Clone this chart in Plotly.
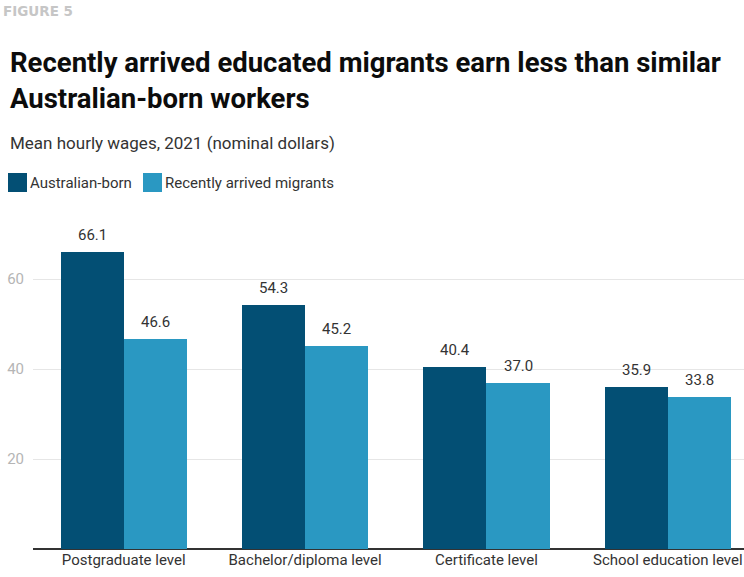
import plotly.graph_objects as go

categories = ["Postgraduate level", "Bachelor/diploma level", "Certificate level", "School education level"]
australian_born = [66.1, 54.3, 40.4, 35.9]
recent_migrants = [46.6, 45.2, 37.0, 33.8]
y_ticks = [20, 40, 60]

series = [
    ("Australian-born", australian_born, "#034f74", -1),
    ("Recently arrived migrants", recent_migrants, "#2a98c2", 1),
]

bar_w = 0.348
positions = list(range(len(categories)))

PLOT_H = 324
BASE = 549
LEFT = 33
PLOT_W = 711


def py(pixel_y):
    return (BASE - pixel_y) / PLOT_H


def px(pixel_x):
    return (pixel_x - LEFT) / PLOT_W


fig = go.Figure()
for name, vals, color, side in series:
    xs = [p + side * bar_w / 2 for p in positions]
    fig.add_trace(go.Bar(
        x=xs, y=vals, width=bar_w, name=name,
        marker=dict(color=color, line=dict(width=0)),
        hoverinfo="y", showlegend=False,
    ))
    for x, v in zip(xs, vals):
        fig.add_annotation(
            x=x, y=v, text=f"{v:.1f}", showarrow=False,
            yanchor="bottom", yshift=6,
            font=dict(family="Roboto", size=15, color="#333333"),
        )

# Legend: colour swatches with their labels in a row
legend_x = [8, 143]
for (name, _, color, _), lx in zip(series, legend_x):
    fig.add_shape(
        type="rect", xref="paper", yref="paper",
        x0=px(lx), x1=px(lx + 19), y0=py(192), y1=py(173),
        fillcolor=color, line=dict(width=0),
    )
    fig.add_annotation(
        xref="paper", yref="paper", x=px(lx + 20), y=py(182.5),
        xanchor="left", yanchor="middle", text=name, showarrow=False,
        font=dict(family="Roboto", size=15, color="#333333"),
    )

fig.update_layout(
    width=744, height=577,
    margin=dict(l=33, r=0, t=225, b=28),
    paper_bgcolor="white", plot_bgcolor="white",
    showlegend=False,
    bargap=0,
    font=dict(family="Roboto"),
)

fig.update_xaxes(
    range=[-0.5, 3.42], tickvals=positions, ticktext=categories,
    showgrid=False, zeroline=False, showline=False, ticks="",
    tickfont=dict(family="Roboto", size=15, color="#333333"),
)
fig.update_yaxes(
    range=[0, 72], tickvals=y_ticks, showgrid=True, gridcolor="#e6e6e6", gridwidth=1,
    zeroline=True, zerolinecolor="#333333", zerolinewidth=2,
    showline=False, ticks="", ticklabelstandoff=8,
    tickfont=dict(family="Roboto", size=15, color="#b5b5b5"),
)

# Header text block
fig.add_annotation(
    xref="paper", yref="paper", x=px(1), y=py(10.5), xanchor="left", yanchor="middle",
    text="<b>FIGURE 5</b>", showarrow=False,
    font=dict(family="DejaVu Sans", size=13.5, color="#c6c6c6"),
)
fig.add_annotation(
    xref="paper", yref="paper", x=px(8), y=py(80), xanchor="left", yanchor="middle",
    text="<b>Recently arrived educated migrants earn less than similar<br>Australian-born workers</b>",
    showarrow=False, align="left",
    font=dict(family="Roboto", size=27.5, color="#0c0c0c"),
)
fig.add_annotation(
    xref="paper", yref="paper", x=px(8), y=py(143), xanchor="left", yanchor="middle",
    text="Mean hourly wages, 2021 (nominal dollars)", showarrow=False,
    font=dict(family="Roboto", size=17, color="#333333"),
)

fig.write_html("out.html")
